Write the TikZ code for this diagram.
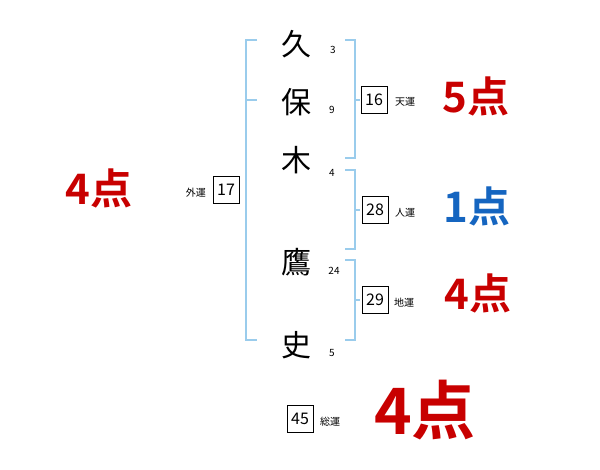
\documentclass[tikz,border=0pt]{standalone}
\usepackage{fontspec}
\newfontfamily\jp{Noto Sans CJK JP}
\newfontfamily\jpb{Noto Sans CJK JP Bold}
\definecolor{brk}{HTML}{9ACCEC}
\definecolor{pred}{HTML}{C80000}
\definecolor{pblue}{HTML}{1565C0}
\begin{document}
\begin{tikzpicture}[x=1pt,y=-1pt,
  namech/.style={font=\jp\fontsize{30}{30}\selectfont, inner sep=0pt},
  strk/.style={font=\jp\fontsize{10}{10}\selectfont, inner sep=0pt},
  numbox/.style={draw=black, line width=0.8pt, font=\jp\fontsize{16}{16}\selectfont, minimum width=26pt, minimum height=27pt, inner sep=0pt},
  lbl/.style={font=\jp\fontsize{10}{10}\selectfont, inner sep=0pt},
  pts/.style={font=\jpb\fontsize{42}{42}\selectfont, inner sep=0pt},
  bline/.style={draw=brk, line width=1.8pt}
]
\useasboundingbox (0,0) rectangle (600,470);
% name characters
\node[namech] (c1) at (296,44) {久};
\node[namech] (c2) at (296,102) {保};
\node[namech] (c3) at (296,160) {木};
\node[namech] (c4) at (296,262) {鷹};
\node[namech] (c5) at (296,345) {史};
% stroke counts
\node[strk] (s1) at (333,50) {3};
\node[strk] (s2) at (332,110) {9};
\node[strk] (s3) at (332,173) {4};
\node[strk] (s4) at (334,271) {24};
\node[strk] (s5) at (332,353) {5};
% left bracket
\coordinate (lt) at (246,40);
\coordinate (lb) at (246,340);
\draw[bline] (257,40) -- (lt) -- (lb) -- (257,340);
\draw[bline] (246,100) -- (257,100);
% right brackets
\draw[bline] (345,40) -- (355,40) -- (355,158) -- (345,158);
\draw[bline] (355,100) -- (360,100);
\draw[bline] (345,170) -- (355,170) -- (355,249) -- (345,249);
\draw[bline] (355,210) -- (360,210);
\draw[bline] (345,260) -- (355,260) -- (355,340) -- (345,340);
\draw[bline] (355,300) -- (360,300);
% boxes
\node[numbox] (b16) at (374,100) {16};
\node[lbl, anchor=west] (l16) at (395,102) {天運};
\node[pts, text=pred] (p16) at (476,96) {5点};
\node[numbox] (b28) at (375,210) {28};
\node[lbl, anchor=west] (l28) at (395,213) {人運};
\node[pts, text=pblue] (p28) at (477,206) {1点};
\node[numbox] (b29) at (375,300) {29};
\node[lbl, anchor=west] (l29) at (394,303) {地運};
\node[pts, text=pred] (p29) at (478,293) {4点};
\node[numbox] (b17) at (226,190) {17};
\node[lbl, anchor=east] (l17) at (206,193) {外運};
\node[pts, text=pred] (p17) at (99,188) {4点};
\node[numbox] (b45) at (300,419) {45};
\node[lbl, anchor=west] (l45) at (320,422) {総運};
\node[font=\jpb\fontsize{64}{64}\selectfont, inner sep=0pt, text=pred] (p45) at (425,410) {4点};
\end{tikzpicture}
\end{document}
